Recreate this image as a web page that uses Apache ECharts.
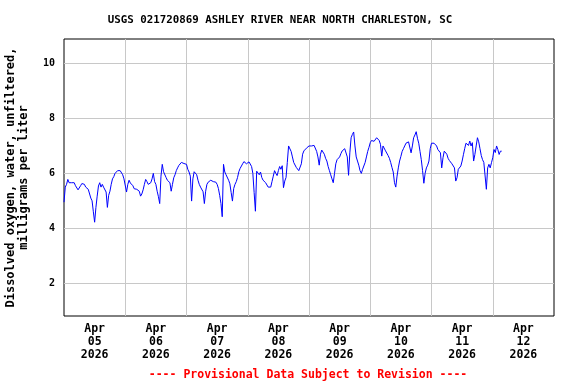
<!DOCTYPE html>
<html><head><meta charset="utf-8">
<script src="https://cdn.jsdelivr.net/npm/echarts@6/dist/echarts.min.js"></script>
<style>html,body{margin:0;padding:0;background:#fff}#c{width:576px;height:384px}</style>
</head><body><div id="c"></div>
<script>
const chartTitle = 'USGS 021720869 ASHLEY RIVER NEAR NORTH CHARLESTON, SC';
const footerText = '---- Provisional Data Subject to Revision ----';
const yAxisTitle = 'Dissolved oxygen, water, unfiltered,\nmilligrams per liter';
const dayLabels = ['05', '06', '07', '08', '09', '10', '11', '12'];
const monthLabel = 'Apr';
const yearLabel = '2026';
const stepHours = 0.5; // readings every 30 minutes starting Apr 05 00:00

const apr05 = [4.95, 5.5, 5.6, 5.78, 5.66, 5.68, 5.66, 5.66, 5.66, 5.55, 5.5, 5.4, 5.35, 5.55, 5.63, 5.63, 5.6, 5.5, 5.5, 5.42, 5.42, 5.1, 5.0, 4.6, 4.22, 4.75, 5.17, 5.54, 5.66, 5.5, 5.6, 5.5, 5.45, 5.32, 4.76, 5.2, 5.35, 5.6, 5.8, 5.88, 6.0, 6.05, 6.1, 6.1, 6.1, 6.1, 5.95, 5.8];
const apr06 = [5.78, 5.32, 5.6, 5.75, 5.65, 5.6, 5.55, 5.44, 5.4, 5.42, 5.4, 5.35, 5.17, 5.25, 5.4, 5.6, 5.78, 5.7, 5.6, 5.55, 5.66, 5.8, 6.0, 5.7, 5.6, 5.35, 5.15, 4.9, 5.9, 6.33, 6.06, 6.0, 5.85, 5.75, 5.7, 5.66, 5.35, 5.6, 5.84, 5.95, 6.1, 6.2, 6.29, 6.35, 6.4, 6.38, 6.36, 6.33];
const apr07 = [6.33, 6.15, 6.05, 5.9, 4.99, 5.8, 6.06, 6.0, 5.95, 5.75, 5.6, 5.5, 5.45, 5.33, 4.9, 5.35, 5.6, 5.68, 5.72, 5.75, 5.78, 5.7, 5.66, 5.68, 5.6, 5.45, 5.2, 4.9, 4.42, 6.33, 6.05, 5.95, 5.88, 5.75, 5.62, 5.3, 4.99, 5.45, 5.6, 5.7, 5.85, 6.06, 6.18, 6.25, 6.35, 6.43, 6.38, 6.35];
const apr08 = [6.39, 6.42, 6.35, 6.25, 6.0, 5.3, 4.62, 6.08, 6.15, 5.95, 6.05, 5.85, 5.75, 5.72, 5.66, 5.62, 5.5, 5.44, 5.5, 5.7, 5.9, 6.1, 6.0, 5.92, 6.1, 6.25, 6.15, 6.28, 5.48, 5.72, 5.85, 6.4, 7.0, 6.95, 6.8, 6.6, 6.4, 6.33, 6.22, 6.15, 6.1, 6.08, 6.35, 6.7, 6.82, 6.87, 6.92, 6.98];
const apr09 = [7.0, 7.0, 7.0, 7.0, 7.02, 7.0, 6.8, 6.6, 6.3, 6.7, 6.85, 6.78, 6.7, 6.55, 6.45, 6.25, 6.1, 5.95, 5.8, 5.66, 6.0, 6.35, 6.5, 6.57, 6.6, 6.72, 6.82, 6.87, 6.9, 6.85, 6.6, 5.93, 6.75, 7.3, 7.42, 7.51, 7.0, 6.6, 6.45, 6.3, 6.1, 6.0, 6.15, 6.22, 6.4, 6.6, 6.8, 6.95];
const apr10 = [7.12, 7.2, 7.2, 7.17, 7.15, 7.3, 7.28, 7.2, 7.06, 6.63, 7.0, 6.94, 6.82, 6.76, 6.65, 6.55, 6.4, 6.22, 6.05, 5.66, 5.5, 5.9, 6.2, 6.45, 6.62, 6.8, 6.9, 7.0, 7.1, 7.12, 7.15, 7.18, 6.75, 7.0, 7.3, 7.4, 7.52, 7.28, 7.1, 6.8, 6.5, 6.1, 5.64, 6.0, 6.2, 6.3, 6.45, 6.9];
const apr11 = [7.1, 7.12, 7.1, 7.05, 7.0, 6.87, 6.9, 6.75, 6.2, 6.57, 6.81, 6.75, 6.7, 6.55, 6.47, 6.4, 6.35, 6.3, 6.2, 5.72, 5.84, 6.15, 6.2, 6.27, 6.45, 6.68, 6.9, 7.1, 7.15, 7.02, 7.18, 7.0, 7.12, 6.45, 6.69, 7.0, 7.3, 7.15, 6.9, 6.65, 6.5, 6.4, 6.33, 5.42, 6.2, 6.33, 6.2, 6.39];
const apr12 = [6.57, 6.87, 6.76, 7.0, 6.87, 6.69, 6.81, 6.81];

const allValues = [].concat(apr05, apr06, apr07, apr08, apr09, apr10, apr11, apr12);
const seriesData = allValues.map((v, i) => [i * stepHours, v]);

const monoFont = '"DejaVu Sans Mono", "Liberation Mono", monospace';
const chart = echarts.init(document.getElementById('c'), null, {renderer: 'canvas'});
chart.setOption({
  animation: false,
  backgroundColor: '#fff',
  grid: {left: 64, right: 22, top: 39, bottom: 68, show: true, borderColor: '#000', borderWidth: 1,
         backgroundColor: 'transparent', containLabel: false, outerBoundsMode: 'none'},
  graphic: [
    {type: 'text', x: 280, y: 20, style: {text: chartTitle, font: 'bold 10.8px ' + monoFont, fill: '#000', textAlign: 'center', textVerticalAlign: 'middle'}},
    {type: 'text', x: 308, y: 375, style: {text: footerText, font: 'bold 11.5px ' + monoFont, fill: '#ff0000', textAlign: 'center', textVerticalAlign: 'middle'}}
  ],
  xAxis: [
    {type: 'value', min: 0, max: 192, interval: 24,
     axisLine: {show: false}, axisTick: {show: false}, axisLabel: {show: false},
     splitLine: {show: true, showMinLine: false, showMaxLine: false, lineStyle: {color: '#c8c8c8', width: 1}}},
    {type: 'value', min: 0, max: 192, interval: 12, position: 'bottom',
     axisLine: {show: false}, axisTick: {show: false}, splitLine: {show: false},
     axisLabel: {show: true, margin: 7, color: '#000', fontFamily: monoFont, fontWeight: 'bold', fontSize: 11.5, lineHeight: 13,
       showMinLabel: false, showMaxLabel: false,
       formatter: function (v) {
         if (Math.round(v) % 24 !== 12) return '';
         const d = Math.floor(v / 24);
         return monthLabel + '\n' + dayLabels[d] + '\n' + yearLabel;
       }}}
  ],
  yAxis: {
    type: 'value', min: 0.8, max: 10.9, splitNumber: 5,
    name: yAxisTitle, nameLocation: 'middle', nameGap: 34, nameRotate: 90,
    nameTextStyle: {fontFamily: monoFont, fontWeight: 'bold', fontSize: 12, lineHeight: 13, color: '#000', align: 'center'},
    axisLine: {show: false}, axisTick: {show: false},
    axisLabel: {margin: 9, color: '#000', fontFamily: monoFont, fontWeight: 'bold', fontSize: 10, showMinLabel: false, showMaxLabel: false},
    splitLine: {show: true, showMinLine: false, showMaxLine: false, lineStyle: {color: '#c8c8c8', width: 1}}
  },
  series: [{
    type: 'line', xAxisIndex: 0, data: seriesData, showSymbol: false, symbol: 'none',
    lineStyle: {color: '#0000ff', width: 1}, silent: true
  }]
});
</script>
</body></html>
